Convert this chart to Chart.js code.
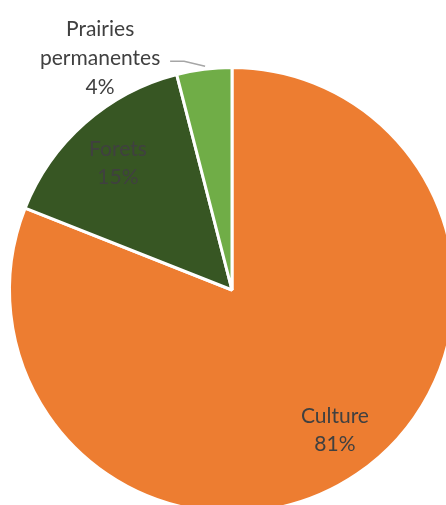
<!DOCTYPE html>
<html>
<head>
<meta charset="utf-8">
<script src="https://cdn.jsdelivr.net/npm/chart.js@4"></script>
<style>
  html, body { margin: 0; padding: 0; background: #fff; overflow: hidden; width: 446px; height: 505px; }
  #wrap { position: absolute; left: 0; top: 0; width: 480px; height: 540px; }
</style>
</head>
<body>
<div id="wrap"><canvas id="chart" width="480" height="540"></canvas></div>
<script>
const labels = ['Culture', 'Forets', 'Prairies permanentes']
const values = [81, 15, 4]
const colors = ['#ED7D31', '#375623', '#70AD47']

const labelLines = [['Culture'], ['Forets'], ['Prairies', 'permanentes']]

const labelPlugin = {
  id: 'sliceLabels',
  afterDraw(chart) {
    const ctx = chart.ctx
    const arcs = chart.getDatasetMeta(0).data
    ctx.save()
    ctx.font = '21px Lato, "Open Sans", sans-serif'
    ctx.fillStyle = '#404040'
    ctx.textAlign = 'center'
    ctx.textBaseline = 'middle'
    const lh = 28
    for (let i = 0; i < arcs.length; i++) {
      const a = arcs[i]
      const mid = (a.startAngle + a.endAngle) / 2
      const lines = labelLines[i].concat([values[i] + '%'])
      if (i < 2) {
        const r = a.outerRadius * 0.775
        // excel nudges the labels a little
        const x = a.x + Math.cos(mid) * r + (i == 0 ? 6 : 0)
        const y = a.y + Math.sin(mid) * r + (i == 0 ? -2 : 3)
        lines.forEach((t, k) => ctx.fillText(t, x, y + (k - (lines.length - 1) / 2) * lh))
      } else {
        // outside label with leader line
        const ax = a.x + Math.cos(mid) * a.outerRadius
        const ay = a.y + Math.sin(mid) * a.outerRadius
        ctx.strokeStyle = '#A6A6A6'
        ctx.lineWidth = 1.5
        ctx.beginPath()
        ctx.moveTo(ax + 1, ay - 3)
        ctx.lineTo(ax - 20, ay - 8)
        ctx.lineTo(ax - 34, ay - 8)
        ctx.stroke()
        const x = ax - 104
        const y = ay - 11
        lines.forEach((t, k) => ctx.fillText(t, x, y + (k - (lines.length - 1) / 2) * 29))
      }
    }
    ctx.restore()
  }
}

const ctx = document.getElementById('chart').getContext('2d')
const chart = new Chart(ctx, {
  type: 'pie',
  data: {
    labels: labels,
    datasets: [{
      data: values,
      backgroundColor: colors,
      borderColor: '#ffffff',
      borderWidth: 3
    }]
  },
  options: {
    responsive: false,
    animation: false,
    layout: { padding: { left: 8, top: 65, right: 24, bottom: 25 } },
    plugins: {
      legend: { display: false },
      tooltip: { enabled: false }
    }
  },
  plugins: [labelPlugin]
})
</script>
</body>
</html>
